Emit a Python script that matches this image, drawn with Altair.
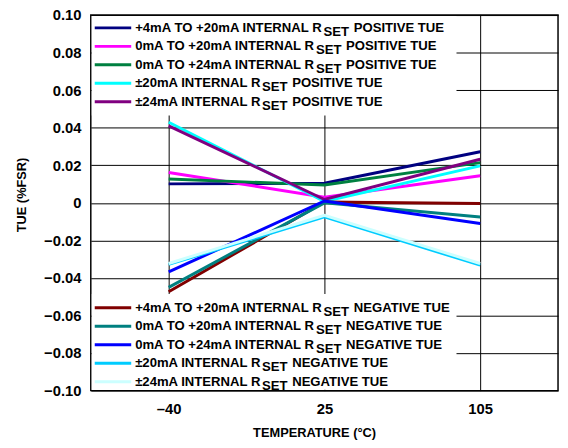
import altair as alt
import pandas as pd

# ---------------- data ----------------
temps = [-40, 25, 105]

series_names = [
    "+4mA TO +20mA INTERNAL RSET POSITIVE TUE",
    "0mA TO +20mA INTERNAL RSET POSITIVE TUE",
    "0mA TO +24mA INTERNAL RSET POSITIVE TUE",
    "±20mA INTERNAL RSET POSITIVE TUE",
    "±24mA INTERNAL RSET POSITIVE TUE",
    "+4mA TO +20mA INTERNAL RSET NEGATIVE TUE",
    "0mA TO +20mA INTERNAL RSET NEGATIVE TUE",
    "0mA TO +24mA INTERNAL RSET NEGATIVE TUE",
    "±20mA INTERNAL RSET NEGATIVE TUE",
    "±24mA INTERNAL RSET NEGATIVE TUE",
]
label_prefix = [
    "+4mA TO +20mA INTERNAL R",
    "0mA TO +20mA INTERNAL R",
    "0mA TO +24mA INTERNAL R",
    "±20mA INTERNAL R",
    "±24mA INTERNAL R",
    "+4mA TO +20mA INTERNAL R",
    "0mA TO +20mA INTERNAL R",
    "0mA TO +24mA INTERNAL R",
    "±20mA INTERNAL R",
    "±24mA INTERNAL R",
]
label_sub = ["SET"] * 10
label_suffix = ["POSITIVE TUE"] * 5 + ["NEGATIVE TUE"] * 5

pos_4_20 = [0.0101, 0.0104, 0.0272]
pos_0_20 = [0.0162, 0.0030, 0.0144]
pos_0_24 = [0.0127, 0.0095, 0.0214]
pos_pm20 = [0.0429, 0.0008, 0.0197]
pos_pm24 = [0.0410, 0.0018, 0.0232]
neg_4_20 = [-0.0473, 0.0004, -0.0004]
neg_0_20 = [-0.0450, 0.0000, -0.0075]
neg_0_24 = [-0.0368, 0.0010, -0.0110]
neg_pm20 = [-0.0328, -0.0075, -0.0332]
neg_pm24 = [-0.0323, -0.0066, -0.0323]
series_values = [pos_4_20, pos_0_20, pos_0_24, pos_pm20, pos_pm24,
                 neg_4_20, neg_0_20, neg_0_24, neg_pm20, neg_pm24]

colors = ["#000080", "#FF00FF", "#008040", "#00FFFF", "#800080",
          "#800000", "#008080", "#0000FF", "#00CCFF", "#CCFFFF"]

y_ticks = [-0.10, -0.08, -0.06, -0.04, -0.02, 0.0, 0.02, 0.04, 0.06, 0.08, 0.10]

# ---------------- layout / style ----------------
FONT = "Liberation Sans"
W, H = 474, 381
LEG_FS = 13.3
# Arial Bold advance widths (per 1000 em)
AW = {' ': 278, '+': 584, '±': 584, '0': 556, '1': 556, '2': 556, '4': 556,
      'm': 889, 'A': 722, 'T': 611, 'O': 778, 'I': 278, 'N': 722, 'E': 667,
      'R': 722, 'L': 611, 'S': 667, 'P': 667, 'V': 667, 'U': 722, 'G': 778}


def tw(s, fs):
    return sum(AW.get(c, 600) for c in s) * fs / 1000.0


rows = []
for i, v in enumerate(series_values):
    for t, val in zip(temps, v):
        rows.append({"series": series_names[i], "temp": t, "tue": val, "k": i})
df = pd.DataFrame(rows)

top_y = [13, 31.75, 50.5, 69.25, 88]
bot_y = [297, 315.75, 334.5, 353.25, 372]
leg_y = top_y + bot_y
TX = 45
leg_rows = []
for i in range(10):
    xsub = TX + tw(label_prefix[i], LEG_FS) + 0.5
    xsuf = xsub + tw(label_sub[i], LEG_FS) + tw(" ", LEG_FS) + 1
    leg_rows.append({"prefix": label_prefix[i], "sub": label_sub[i],
                     "suffix": label_suffix[i], "ly": leg_y[i],
                     "lysub": leg_y[i] + 4, "xsub": xsub, "xsuf": xsuf,
                     "col": colors[i], "x1": 4, "x2": 41})
ldf = pd.DataFrame(leg_rows)

x_axis = alt.Axis(
    labelExpr="replace(datum.label, '-', '–')",
    labelAngle=0, labelFont=FONT, labelFontWeight="bold", labelFontSize=15,
    labelColor="black", labelPadding=11, ticks=False, domain=False,
    grid=True, gridColor="black", gridWidth=1,
    title="TEMPERATURE (°C)", titleFont=FONT, titleFontWeight="bold",
    titleFontSize=13, titleColor="black", titleBaseline="middle", titleY=43,
    titleX=226.5, titleAlign="center",
)
y_axis = alt.Axis(
    values=y_ticks,
    labelExpr="abs(datum.value) < 1e-9 ? '0' : replace(format(datum.value, '.2f'), '-', '–')",
    labelFont=FONT, labelFontWeight="bold", labelFontSize=15, labelColor="black",
    labelPadding=10, ticks=False, domain=False,
    grid=True, gridColor="black", gridWidth=1,
    title="TUE (%FSR)", titleFont=FONT, titleFontWeight="bold", titleFontSize=13,
    titleColor="black", titleX=-70, titleY=182, titleAngle=-90,
    titleBaseline="middle", titleAlign="center",
)

lines = alt.Chart(df).mark_line(strokeWidth=3).encode(
    x=alt.X("temp:O", sort=temps, scale=alt.Scale(type="point", padding=0.5), axis=x_axis),
    y=alt.Y("tue:Q", scale=alt.Scale(domain=[-0.10, 0.10], nice=False, zero=False), axis=y_axis),
    color=alt.Color("series:N", scale=alt.Scale(domain=series_names, range=colors), legend=None),
    order="k:Q",
)

one = pd.DataFrame({"a": [0]})
rect_top = alt.Chart(one).mark_rect(fill="white").encode(
    x=alt.value(1), x2=alt.value(371), y=alt.value(1), y2=alt.value(102))
rect_bot = alt.Chart(one).mark_rect(fill="white").encode(
    x=alt.value(1), x2=alt.value(371), y=alt.value(283), y2=alt.value(380))

leg_lines = alt.Chart(ldf).mark_rule(strokeWidth=3).encode(
    x=alt.X("x1:Q", scale=None, axis=None), x2="x2:Q",
    y=alt.Y("ly:Q", scale=None, axis=None),
    color=alt.Color("col:N", scale=None, legend=None))
txt_kw = dict(align="left", baseline="middle", font=FONT, fontWeight="bold",
              fontSize=LEG_FS, color="black")
leg_pre = alt.Chart(ldf).mark_text(**txt_kw).encode(
    x=alt.value(TX), y=alt.Y("ly:Q", scale=None, axis=None), text="prefix:N")
leg_sub = alt.Chart(ldf).mark_text(**txt_kw).encode(
    x=alt.X("xsub:Q", scale=None, axis=None), y=alt.Y("lysub:Q", scale=None, axis=None), text="sub:N")
leg_suf = alt.Chart(ldf).mark_text(**txt_kw).encode(
    x=alt.X("xsuf:Q", scale=None, axis=None), y=alt.Y("ly:Q", scale=None, axis=None), text="suffix:N")

chart = alt.layer(lines, rect_top, rect_bot, leg_lines, leg_pre, leg_sub, leg_suf).resolve_scale(
    x="independent", y="independent", color="independent"
).properties(
    width=W, height=H, autosize="none",
    padding={"left": 84, "top": 4, "right": 2, "bottom": 52},
    background="white",
).configure_view(stroke="black", strokeWidth=1.5)

chart.save("out.html", embed_options={"renderer": "svg", "actions": False})
